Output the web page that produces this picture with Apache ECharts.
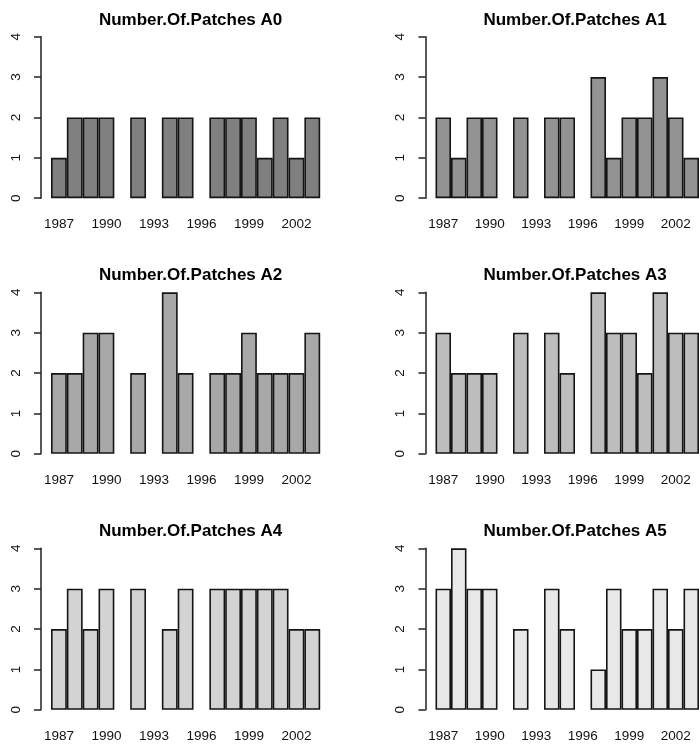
<!DOCTYPE html>
<html>
<head>
<meta charset="utf-8">
<script src="https://cdn.jsdelivr.net/npm/echarts@6/dist/echarts.min.js"></script>
<style>
html,body{margin:0;padding:0;background:#fff;}
#chart{width:699px;height:747px;}
</style>
</head>
<body>
<div id="chart"></div>
<script>
var years = ['1987','1988','1989','1990','1991','1992','1993','1994','1995','1996','1997','1998','1999','2000','2001','2002','2003'];
var panelTitles = ['Number.Of.Patches A0','Number.Of.Patches A1','Number.Of.Patches A2','Number.Of.Patches A3','Number.Of.Patches A4','Number.Of.Patches A5'];
var yTicks = [0,1,2,3,4];
var A0 = [1,2,2,2,null,2,null,2,2,null,2,2,2,1,2,1,2];
var A1 = [2,1,2,2,null,2,null,2,2,null,3,1,2,2,3,2,1];
var A2 = [2,2,3,3,null,2,null,4,2,null,2,2,3,2,2,2,3];
var A3 = [3,2,2,2,null,3,null,3,2,null,4,3,3,2,4,3,3];
var A4 = [2,3,2,3,null,3,null,2,3,null,3,3,3,3,3,2,2];
var A5 = [3,4,3,3,null,2,null,3,2,null,1,3,2,2,3,2,3];
var seriesData = [A0,A1,A2,A3,A4,A5];
var fills = ['#808080','#939393','#a8a8a8','#bdbdbd','#d3d3d3','#e8e8e8'];

var chart = echarts.init(document.getElementById('chart'), null, {renderer:'canvas'});
var colLeft = [51, 435.5];
var plotW = 269.2;
var rowTop = [36.7, 292.3, 548.3];
var plotH = 161.5;
var titleTop = [6.5, 262, 517.5];
var font = 'Liberation Sans, Arial, sans-serif';

var grids=[], xAxes=[], yAxes=[], series=[], titles=[];
for (var i=0;i<6;i++){
  var r = Math.floor(i/2), c = i%2;
  grids.push({left:colLeft[c], top:rowTop[r], width:plotW, height:plotH, containLabel:false});
  xAxes.push({
    type:'category', gridIndex:i, data:years, boundaryGap:true,
    axisLine:{show:false}, axisTick:{show:false}, splitLine:{show:false},
    axisLabel:{interval:2, margin:19, color:'#111', fontSize:13.5, fontFamily:font}
  });
  yAxes.push({
    type:'value', gridIndex:i, min:yTicks[0], max:yTicks[yTicks.length-1], interval:1,
    offset:10, splitLine:{show:false},
    axisLine:{show:true, lineStyle:{color:'#222', width:1.5}},
    axisTick:{show:true, length:7, inside:false, lineStyle:{color:'#222', width:1.5}},
    axisLabel:{rotate:90, margin:18, color:'#111', fontSize:13.5, fontFamily:font}
  });
  series.push({
    type:'bar', xAxisIndex:i, yAxisIndex:i, data:seriesData[i],
    barCategoryGap:'0%', barGap:'0%', animation:false,
    itemStyle:{color:fills[i], borderColor:'#151515', borderWidth:1.6}
  });
  titles.push({
    text:panelTitles[i], left:colLeft[c]+plotW/2, top:titleTop[r], textAlign:'center',
    textStyle:{fontSize:17, fontWeight:'bold', color:'#000', fontFamily:font}
  });
}
chart.setOption({
  animation:false,
  backgroundColor:'#fff',
  title:titles, grid:grids, xAxis:xAxes, yAxis:yAxes, series:series
});
</script>
</body>
</html>
